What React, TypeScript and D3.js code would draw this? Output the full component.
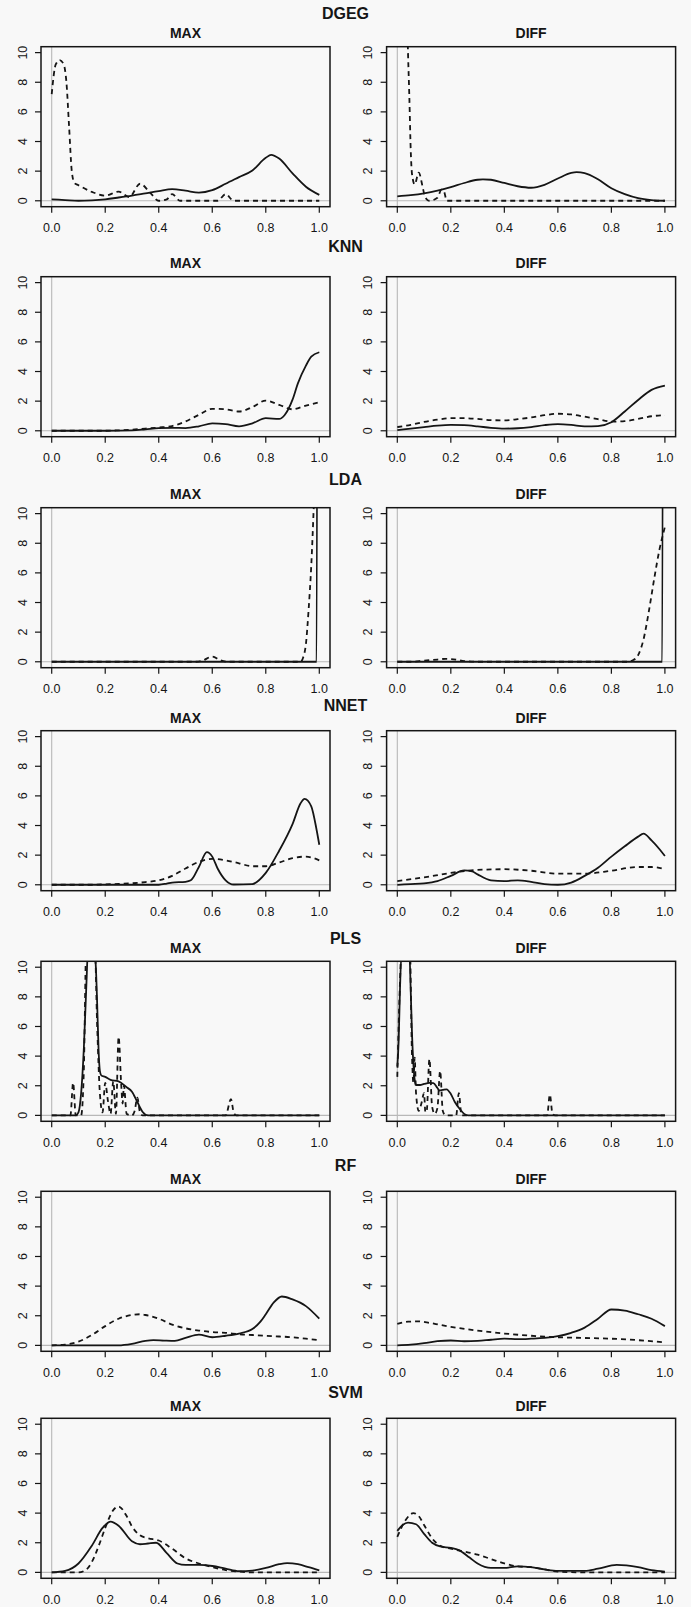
import React from "react";
import * as d3 from "d3";

type Pt = [number, number];

const models = ["DGEG", "KNN", "LDA", "NNET", "PLS", "RF", "SVM"];
const panelNames = ["MAX", "DIFF"];
const xTicks = [0, 0.2, 0.4, 0.6, 0.8, 1.0];
const yTicks = [0, 2, 4, 6, 8, 10];

// density curves: [x, density]
const dgegMaxSolid: Pt[] = [[0, 0.1], [0.05, 0.05], [0.1, 0.0], [0.15, 0.03], [0.2, 0.1], [0.25, 0.22], [0.3, 0.35], [0.35, 0.5], [0.4, 0.65], [0.45, 0.78], [0.5, 0.68], [0.55, 0.55], [0.6, 0.72], [0.65, 1.15], [0.7, 1.6], [0.75, 2.05], [0.8, 2.9], [0.82, 3.1], [0.85, 2.85], [0.9, 1.85], [0.95, 0.95], [1.0, 0.4]];
const dgegMaxDashed: Pt[] = [[0, 7.2], [0.015, 9.2], [0.03, 9.5], [0.045, 9.2], [0.055, 8], [0.065, 5], [0.075, 2], [0.085, 1.2], [0.1, 1.05], [0.15, 0.6], [0.2, 0.35], [0.25, 0.62], [0.29, 0.25], [0.33, 1.15], [0.37, 0.5], [0.4, 0.0], [0.43, 0.1], [0.45, 0.45], [0.48, 0.0], [0.62, 0.0], [0.65, 0.45], [0.68, 0.0], [1.0, 0.0]];
const dgegDiffSolid: Pt[] = [[0, 0.3], [0.05, 0.38], [0.1, 0.5], [0.15, 0.68], [0.2, 0.92], [0.25, 1.2], [0.3, 1.42], [0.32, 1.45], [0.35, 1.42], [0.4, 1.2], [0.45, 0.98], [0.5, 0.88], [0.55, 1.08], [0.6, 1.5], [0.65, 1.88], [0.67, 1.93], [0.7, 1.87], [0.75, 1.45], [0.8, 0.85], [0.85, 0.45], [0.9, 0.18], [0.95, 0.05], [1.0, 0.0]];
const dgegDiffDashed: Pt[] = [[0, 30], [0.03, 18], [0.04, 10], [0.045, 7], [0.05, 3.5], [0.055, 1.8], [0.065, 1.1], [0.08, 1.9], [0.095, 0.9], [0.1, 0.5], [0.11, 0.1], [0.12, 0], [0.15, 0.2], [0.165, 0.75], [0.175, 0.6], [0.185, 0.0], [1.0, 0.0]];

const knnMaxSolid: Pt[] = [[0, 0], [0.2, 0], [0.3, 0.03], [0.35, 0.1], [0.4, 0.18], [0.45, 0.2], [0.5, 0.18], [0.55, 0.3], [0.6, 0.5], [0.65, 0.45], [0.7, 0.3], [0.75, 0.5], [0.8, 0.85], [0.85, 0.8], [0.87, 1.05], [0.9, 2.1], [0.92, 3.2], [0.95, 4.4], [0.97, 5.0], [1.0, 5.3]];
const knnMaxDashed: Pt[] = [[0, 0], [0.2, 0], [0.25, 0.03], [0.3, 0.08], [0.35, 0.15], [0.4, 0.22], [0.45, 0.32], [0.5, 0.63], [0.55, 1.08], [0.6, 1.48], [0.65, 1.45], [0.7, 1.3], [0.75, 1.6], [0.8, 2.04], [0.85, 1.75], [0.9, 1.45], [0.95, 1.7], [1.0, 1.93]];
const knnDiffSolid: Pt[] = [[0, 0.05], [0.05, 0.15], [0.1, 0.25], [0.15, 0.35], [0.2, 0.4], [0.25, 0.38], [0.3, 0.3], [0.35, 0.2], [0.4, 0.15], [0.45, 0.17], [0.5, 0.25], [0.55, 0.38], [0.6, 0.45], [0.65, 0.4], [0.7, 0.3], [0.75, 0.32], [0.8, 0.58], [0.85, 1.3], [0.9, 2.08], [0.95, 2.76], [1.0, 3.05]];
const knnDiffDashed: Pt[] = [[0, 0.25], [0.05, 0.4], [0.1, 0.6], [0.15, 0.75], [0.2, 0.85], [0.25, 0.85], [0.3, 0.8], [0.35, 0.72], [0.4, 0.7], [0.45, 0.78], [0.5, 0.9], [0.55, 1.05], [0.6, 1.15], [0.65, 1.1], [0.7, 0.95], [0.75, 0.78], [0.8, 0.62], [0.85, 0.65], [0.9, 0.8], [0.95, 0.98], [1.0, 1.05]];

const ldaMaxSolid: Pt[] = [[0, 0], [0.99, 0], [0.996, 60], [1.0, 60]];
const ldaMaxDashed: Pt[] = [[0, 0], [0.54, 0], [0.56, 0.05], [0.6, 0.35], [0.63, 0.1], [0.66, 0.0], [0.93, 0.0], [0.94, 0.3], [0.95, 1.2], [0.96, 3.5], [0.97, 6.5], [0.98, 10.8], [0.99, 16], [1.0, 20]];
const ldaDiffSolid: Pt[] = [[0, 0], [0.99, 0], [0.996, 60], [1.0, 60]];
const ldaDiffDashed: Pt[] = [[0, 0], [0.05, 0], [0.1, 0.08], [0.15, 0.15], [0.18, 0.2], [0.22, 0.15], [0.25, 0.05], [0.3, 0], [0.86, 0], [0.88, 0.1], [0.9, 0.45], [0.92, 1.5], [0.94, 3.4], [0.96, 5.6], [0.98, 7.6], [1.0, 9.1]];

const nnetMaxSolid: Pt[] = [[0, 0], [0.4, 0], [0.43, 0.08], [0.45, 0.15], [0.5, 0.2], [0.52, 0.3], [0.55, 1.2], [0.58, 2.2], [0.6, 1.9], [0.62, 1.1], [0.65, 0.3], [0.68, 0.02], [0.75, 0.05], [0.8, 0.8], [0.85, 2.3], [0.9, 4.1], [0.93, 5.5], [0.945, 5.8], [0.97, 5.3], [0.99, 3.7], [1.0, 2.7]];
const nnetMaxDashed: Pt[] = [[0, 0], [0.15, 0], [0.2, 0.03], [0.25, 0.06], [0.3, 0.1], [0.35, 0.18], [0.4, 0.3], [0.45, 0.6], [0.5, 1.1], [0.55, 1.55], [0.6, 1.75], [0.65, 1.65], [0.7, 1.45], [0.75, 1.25], [0.8, 1.25], [0.85, 1.5], [0.9, 1.8], [0.95, 1.9], [1.0, 1.65]];
const nnetDiffSolid: Pt[] = [[0, 0], [0.05, 0.05], [0.1, 0.1], [0.15, 0.25], [0.2, 0.6], [0.25, 0.97], [0.28, 0.9], [0.3, 0.7], [0.35, 0.3], [0.4, 0.25], [0.45, 0.3], [0.5, 0.2], [0.55, 0.05], [0.6, 0.0], [0.65, 0.15], [0.7, 0.6], [0.75, 1.15], [0.8, 1.9], [0.85, 2.6], [0.9, 3.25], [0.92, 3.45], [0.95, 3.0], [0.98, 2.4], [1.0, 1.94]];
const nnetDiffDashed: Pt[] = [[0, 0.25], [0.1, 0.5], [0.2, 0.8], [0.3, 1.0], [0.4, 1.05], [0.5, 0.95], [0.6, 0.75], [0.7, 0.75], [0.8, 0.95], [0.9, 1.2], [0.95, 1.2], [1.0, 1.05]];

const plsMaxSolid: Pt[] = [[0, 0], [0.09, 0], [0.1, 0.2], [0.11, 1.5], [0.12, 4.5], [0.13, 9], [0.135, 11], [0.16, 11], [0.165, 10], [0.17, 7.5], [0.175, 4.5], [0.18, 3.0], [0.185, 2.7], [0.2, 2.6], [0.22, 2.4], [0.25, 2.3], [0.28, 1.9], [0.3, 1.6], [0.32, 0.9], [0.34, 0.23], [0.36, 0.0], [1.0, 0]];
const plsMaxDashed: Pt[] = [[0, 0], [0.07, 0], [0.08, 2.2], [0.09, 0], [0.11, 0], [0.12, 3], [0.13, 12], [0.16, 12], [0.17, 6], [0.18, 1.5], [0.19, 0.2], [0.2, 2.2], [0.21, 1.0], [0.22, 0.1], [0.23, 2.3], [0.24, 0.1], [0.25, 5.3], [0.26, 2.0], [0.265, 0.8], [0.27, 2.0], [0.28, 0.1], [0.3, 0], [0.31, 0.3], [0.32, 1.2], [0.33, 0.2], [0.34, 0], [0.65, 0], [0.67, 1.1], [0.68, 0.2], [0.69, 0], [1.0, 0]];
const plsDiffSolid: Pt[] = [[0, 3.3], [0.005, 5], [0.01, 8.5], [0.016, 11], [0.045, 11], [0.05, 8.5], [0.055, 5.5], [0.06, 3.5], [0.065, 2.4], [0.07, 2.05], [0.085, 2.05], [0.1, 2.12], [0.12, 2.2], [0.135, 2.18], [0.15, 1.85], [0.157, 1.68], [0.17, 1.72], [0.184, 1.76], [0.2, 1.45], [0.215, 0.9], [0.234, 0.42], [0.25, 0.1], [0.265, 0], [1.0, 0]];
const plsDiffDashed: Pt[] = [[0, 2.6], [0.01, 9], [0.02, 13], [0.045, 13], [0.055, 4], [0.06, 2.2], [0.065, 3.9], [0.07, 1.5], [0.08, 0.3], [0.09, 0.8], [0.1, 1.5], [0.105, 0.2], [0.11, 0.3], [0.12, 3.8], [0.13, 0.6], [0.14, 0.1], [0.15, 0.5], [0.16, 3.0], [0.17, 0.3], [0.18, 0], [0.22, 0], [0.23, 1.5], [0.24, 0], [0.56, 0], [0.57, 1.4], [0.58, 0.1], [0.59, 0], [1.0, 0]];

const rfMaxSolid: Pt[] = [[0, 0], [0.25, 0], [0.3, 0.1], [0.35, 0.3], [0.38, 0.35], [0.42, 0.32], [0.46, 0.3], [0.5, 0.5], [0.55, 0.72], [0.6, 0.55], [0.65, 0.65], [0.7, 0.8], [0.75, 1.1], [0.78, 1.6], [0.8, 2.1], [0.83, 2.9], [0.86, 3.3], [0.9, 3.1], [0.95, 2.65], [1.0, 1.8]];
const rfMaxDashed: Pt[] = [[0, 0], [0.05, 0.05], [0.1, 0.25], [0.15, 0.7], [0.2, 1.3], [0.25, 1.8], [0.3, 2.05], [0.33, 2.1], [0.35, 2.05], [0.4, 1.8], [0.45, 1.4], [0.5, 1.15], [0.55, 1.0], [0.6, 0.9], [0.65, 0.85], [0.7, 0.75], [0.75, 0.7], [0.8, 0.65], [0.85, 0.6], [0.9, 0.55], [0.95, 0.45], [1.0, 0.35]];
const rfDiffSolid: Pt[] = [[0, 0], [0.05, 0.05], [0.1, 0.15], [0.15, 0.28], [0.2, 0.33], [0.25, 0.28], [0.3, 0.3], [0.35, 0.38], [0.4, 0.45], [0.45, 0.42], [0.5, 0.45], [0.55, 0.5], [0.6, 0.62], [0.65, 0.85], [0.7, 1.2], [0.75, 1.8], [0.8, 2.42], [0.85, 2.35], [0.9, 2.1], [0.95, 1.8], [1.0, 1.3]];
const rfDiffDashed: Pt[] = [[0, 1.45], [0.04, 1.6], [0.08, 1.62], [0.12, 1.52], [0.16, 1.38], [0.2, 1.25], [0.3, 1.0], [0.4, 0.8], [0.5, 0.65], [0.6, 0.55], [0.7, 0.5], [0.8, 0.45], [0.9, 0.35], [1.0, 0.2]];

const svmMaxSolid: Pt[] = [[0, 0], [0.05, 0.1], [0.1, 0.6], [0.15, 1.8], [0.19, 3.0], [0.22, 3.43], [0.25, 3.15], [0.3, 2.1], [0.33, 1.9], [0.36, 1.95], [0.39, 2.0], [0.43, 1.3], [0.47, 0.6], [0.5, 0.5], [0.55, 0.5], [0.6, 0.43], [0.65, 0.25], [0.7, 0.08], [0.75, 0.12], [0.8, 0.3], [0.85, 0.55], [0.88, 0.62], [0.92, 0.55], [0.96, 0.35], [1.0, 0.13]];
const svmMaxDashed: Pt[] = [[0, 0], [0.1, 0], [0.13, 0.2], [0.15, 0.7], [0.18, 2.0], [0.2, 3.0], [0.23, 4.2], [0.25, 4.45], [0.28, 3.8], [0.3, 3.1], [0.33, 2.5], [0.36, 2.3], [0.4, 2.15], [0.45, 1.6], [0.5, 0.95], [0.55, 0.6], [0.6, 0.35], [0.65, 0.15], [0.7, 0.05], [0.75, 0], [1.0, 0]];
const svmDiffSolid: Pt[] = [[0, 2.8], [0.02, 3.2], [0.04, 3.36], [0.07, 3.25], [0.1, 2.6], [0.13, 2.0], [0.16, 1.75], [0.2, 1.65], [0.23, 1.5], [0.27, 1.0], [0.3, 0.6], [0.35, 0.3], [0.4, 0.3], [0.45, 0.4], [0.5, 0.35], [0.55, 0.2], [0.6, 0.1], [0.7, 0.1], [0.75, 0.25], [0.82, 0.5], [0.9, 0.35], [0.95, 0.15], [1.0, 0.05]];
const svmDiffDashed: Pt[] = [[0, 2.4], [0.03, 3.5], [0.06, 4.0], [0.08, 3.8], [0.1, 3.2], [0.13, 2.3], [0.16, 1.8], [0.2, 1.6], [0.25, 1.4], [0.3, 1.2], [0.35, 0.9], [0.4, 0.6], [0.45, 0.4], [0.5, 0.35], [0.55, 0.2], [0.6, 0.05], [0.7, 0], [1.0, 0]];

// per model: [MAX, DIFF], each [solid, dashed]
const curves: Pt[][][][] = [
  [[dgegMaxSolid, dgegMaxDashed], [dgegDiffSolid, dgegDiffDashed]],
  [[knnMaxSolid, knnMaxDashed], [knnDiffSolid, knnDiffDashed]],
  [[ldaMaxSolid, ldaMaxDashed], [ldaDiffSolid, ldaDiffDashed]],
  [[nnetMaxSolid, nnetMaxDashed], [nnetDiffSolid, nnetDiffDashed]],
  [[plsMaxSolid, plsMaxDashed], [plsDiffSolid, plsDiffDashed]],
  [[rfMaxSolid, rfMaxDashed], [rfDiffSolid, rfDiffDashed]],
  [[svmMaxSolid, svmMaxDashed], [svmDiffSolid, svmDiffDashed]],
];

// layout
const W = 691;
const H = 1607;
const boxLeft = [41, 386.6];
const boxW = 289;
const boxH = 160;
const rowTop = [46.7, 276.7, 507.7, 730.7, 961.3, 1191.3, 1418.3];
const titleGap = [27.5, 24.5, 23, 19.5, 17.5, 20, 20];
const subGap = [8.5, 8.5, 9, 7.5, 8, 7, 7];
const font = "'Liberation Sans', Arial, Helvetica, sans-serif";
const ink = "#151515";

function Panel({ row, col }: { row: number; col: number }) {
  const left = boxLeft[col];
  const top = rowTop[row];
  const x = d3.scaleLinear().domain([-0.04, 1.04]).range([left, left + boxW]);
  const y = d3.scaleLinear().domain([-0.4, 10.4]).range([top + boxH, top]);
  const line = d3
    .line<Pt>()
    .x((d) => x(d[0]))
    .y((d) => y(d[1]))
    .curve(d3.curveMonotoneX);
  const [solid, dashed] = curves[row][col];
  const clipId = `clip-${row}-${col}`;

  return (
    <g>
      <clipPath id={clipId}>
        <rect x={left} y={top} width={boxW} height={boxH} />
      </clipPath>
      <text
        x={left + boxW / 2}
        y={top - subGap[row]}
        textAnchor="middle"
        fontFamily={font}
        fontWeight="bold"
        fontSize={14}
        fill={ink}
      >
        {panelNames[col]}
      </text>
      <g clipPath={`url(#${clipId})`}>
        <line x1={x(0)} x2={x(0)} y1={top} y2={top + boxH} stroke="#b8b8b8" strokeWidth={1.1} />
        <line x1={left} x2={left + boxW} y1={y(0)} y2={y(0)} stroke="#b8b8b8" strokeWidth={1.1} />
        <path d={line(solid) || ""} fill="none" stroke={ink} strokeWidth={1.8} strokeLinejoin="round" />
        <path
          d={line(dashed) || ""}
          fill="none"
          stroke={ink}
          strokeWidth={1.8}
          strokeDasharray="5,4"
        />
      </g>
      <rect x={left} y={top} width={boxW} height={boxH} fill="none" stroke={ink} strokeWidth={1.5} />
      {xTicks.map((t) => (
        <g key={"x" + t}>
          <line x1={x(t)} x2={x(t)} y1={top + boxH} y2={top + boxH + 6} stroke={ink} strokeWidth={1.2} />
          <text
            x={x(t)}
            y={top + boxH + 25.5}
            textAnchor="middle"
            fontFamily={font}
            fontSize={12.5}
            fill={ink}
          >
            {t.toFixed(1)}
          </text>
        </g>
      ))}
      {yTicks.map((t) => (
        <g key={"y" + t}>
          <line x1={left - 6} x2={left} y1={y(t)} y2={y(t)} stroke={ink} strokeWidth={1.2} />
          <text
            transform={`translate(${left - 18.5},${y(t)}) rotate(-90)`}
            dy="0.35em"
            textAnchor="middle"
            fontFamily={font}
            fontSize={12.5}
            fill={ink}
          >
            {t}
          </text>
        </g>
      ))}
    </g>
  );
}

export default function App() {
  return (
    <div style={{ position: "absolute", left: 0, top: 0 }}>
      <svg width={W} height={H} style={{ display: "block", background: "#f8f8f8" }}>
        <rect width={W} height={H} fill="#f8f8f8" />
        {models.map((m, i) => (
          <g key={m}>
            <text
              x={W / 2}
              y={rowTop[i] - titleGap[i]}
              textAnchor="middle"
              fontFamily={font}
              fontWeight="bold"
              fontSize={16}
              fill={ink}
            >
              {m}
            </text>
            <Panel row={i} col={0} />
            <Panel row={i} col={1} />
          </g>
        ))}
      </svg>
    </div>
  );
}
